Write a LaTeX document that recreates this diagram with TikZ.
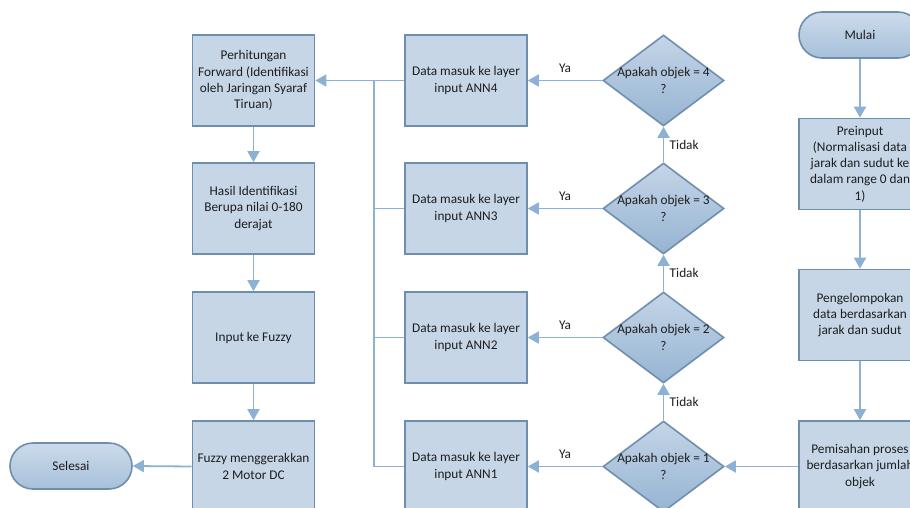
\documentclass[tikz,border=0pt]{standalone}
\usepackage{fontspec}
\setmainfont{Carlito}
\usetikzlibrary{arrows.meta,shapes.geometric}
\definecolor{boxfill}{RGB}{198,214,230}
\definecolor{boxedge}{RGB}{110,142,174}
\definecolor{linec}{RGB}{141,177,213}
\definecolor{diatop}{RGB}{196,213,231}
\definecolor{diabot}{RGB}{150,180,210}
\definecolor{termtop}{RGB}{204,219,235}
\definecolor{termbot}{RGB}{166,192,218}
\definecolor{txt}{RGB}{30,30,30}
\begin{document}
\begin{tikzpicture}[x=1pt,y=-1pt,
  every node/.style={font=\fontsize{13.3}{16.3}\selectfont, text=txt},
  procbox/.style={draw=boxedge, line width=1.6pt, fill=boxfill, minimum width=122pt, minimum height=91pt, inner sep=0pt, align=center},
  dia/.style={diamond, draw=boxedge, line width=1.6pt, top color=diatop, bottom color=diabot, minimum width=121pt, minimum height=91pt, inner sep=0pt},
  term/.style={draw=boxedge, line width=1.6pt, rounded corners=23pt, top color=termtop, bottom color=termbot, minimum width=122pt, minimum height=46pt, inner sep=0pt, align=center},
  conn/.style={draw=linec, line width=1.8pt},
  arr/.style={conn, -{Triangle[length=11pt,width=12pt]}},
  lbl/.style={font=\fontsize{13.3}{16.3}\selectfont}
]
\useasboundingbox (0,0) rectangle (910,508);
\fill[white] (0,0) rectangle (910,508);

% left column
\node[procbox] (b1) at (253.5,80.5) {Perhitungan\\Forward (Identifikasi\\oleh Jaringan Syaraf\\Tiruan)};
\node[procbox] (b2) at (253.5,208.5) {Hasil Identifikasi\\Berupa nilai 0-180\\derajat};
\node[procbox] (b3) at (253.5,337.5) {Input ke Fuzzy};
\node[procbox] (b4) at (253.5,466.5) {Fuzzy menggerakkan\\2 Motor DC};
\node[term] (sel) at (71,466) {Selesai};

% middle column
\node[procbox] (a4) at (466,80.5) {Data masuk ke layer\\input ANN4};
\node[procbox] (a3) at (466,208.5) {Data masuk ke layer\\input ANN3};
\node[procbox] (a2) at (466,337.5) {Data masuk ke layer\\input ANN2};
\node[procbox] (a1) at (466,466.5) {Data masuk ke layer\\input ANN1};

% diamonds
\node[dia] (d4) at (663.5,80.5) {};
\node (d4t) at (d4) [align=center] {Apakah objek = 4\\?};
\node[dia] (d3) at (663.5,208.5) {};
\node (d3t) at (d3) [align=center] {Apakah objek = 3\\?};
\node[dia] (d2) at (663.5,337.5) {};
\node (d2t) at (d2) [align=center] {Apakah objek = 2\\?};
\node[dia] (d1) at (663.5,466.5) {};
\node (d1t) at (d1) [align=center] {Apakah objek = 1\\?};

% right column
\node[term] (mul) at (860,35) {Mulai};
\node[procbox] (r1) at (860,164) {Preinput\\(Normalisasi data\\jarak dan sudut ke\\dalam range 0 dan\\1)};
\node[procbox] (r2) at (860,315) {Pengelompokan\\data berdasarkan\\jarak dan sudut};
\node[procbox] (r3) at (860,466.5) {Pemisahan proses\\berdasarkan jumlah\\objek};

% bus
\coordinate (bt) at (374,80.5);
\coordinate (bb) at (374,466.5);

% connectors
\draw[arr] (mul.south) -- (r1.north);
\draw[arr] (r1.south) -- (r2.north);
\draw[arr] (r2.south) -- (r3.north);
\draw[arr] (r3.west) -- (d1.east);

\draw[arr] (d1.north) -- node[lbl, right, xshift=2pt] (t1) {Tidak} (d2.south);
\draw[arr] (d2.north) -- node[lbl, right, xshift=2pt] (t2) {Tidak} (d3.south);
\draw[arr] (d3.north) -- node[lbl, right, xshift=2pt] (t3) {Tidak} (d4.south);

\draw[arr] (d4.west) -- node[lbl, above, yshift=4pt] (y4) {Ya} (a4.east);
\draw[arr] (d3.west) -- node[lbl, above, yshift=4pt] (y3) {Ya} (a3.east);
\draw[arr] (d2.west) -- node[lbl, above, yshift=4pt] (y2) {Ya} (a2.east);
\draw[arr] (d1.west) -- node[lbl, above, yshift=4pt] (y1) {Ya} (a1.east);

\draw[arr] (a4.west) -- (b1.east);
\draw[conn] (bt) -- (bb);
\draw[conn] (a3.west) -- (a3.west -| bt);
\draw[conn] (a2.west) -- (a2.west -| bt);
\draw[conn] (a1.west) -- (a1.west -| bt);

\draw[arr] (b1.south) -- (b2.north);
\draw[arr] (b2.south) -- (b3.north);
\draw[arr] (b3.south) -- (b4.north);
\draw[arr] (b4.west) -- (sel.east);
\end{tikzpicture}
\end{document}
